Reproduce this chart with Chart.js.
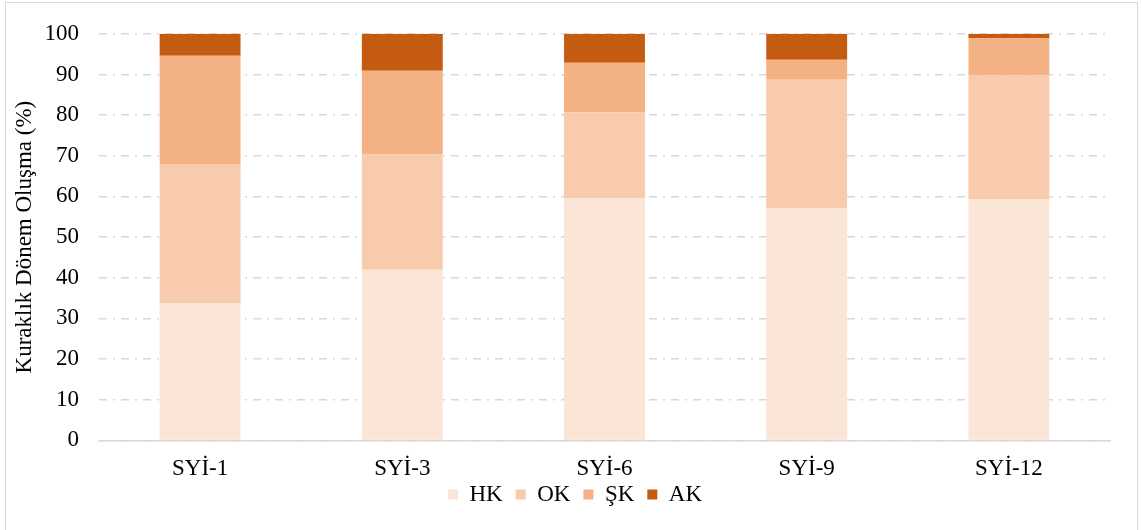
<!DOCTYPE html>
<html>
<head>
<meta charset="utf-8">
<script src="https://cdn.jsdelivr.net/npm/chart.js@4"></script>
<style>
  body { margin: 0; background: #fff; }
  #wrap { width: 1141px; height: 530px; }
</style>
</head>
<body>
<div id="wrap"><canvas id="barChart" width="1141" height="530"></canvas></div>
<script>
const categories = ['SYİ-1', 'SYİ-3', 'SYİ-6', 'SYİ-9', 'SYİ-12'];
const hk = [33.8, 42.0, 59.5, 57.1, 59.4];
const ok = [34.0, 28.3, 21.2, 31.6, 30.4];
const sk = [26.8, 20.6, 12.2, 4.9, 9.1];
const ak = [5.4, 9.1, 7.1, 6.4, 1.1];
const yTicks = [0, 10, 20, 30, 40, 50, 60, 70, 80, 90, 100];

const serif = 'Liberation Serif';

// light frame round the whole chart
const framePlugin = {
    id: 'frame',
    afterDraw(chart) {
        const c = chart.ctx;
        c.save();
        c.strokeStyle = '#d9d9d9';
        c.lineWidth = 1;
        c.strokeRect(5.5, 2.5, 1132, 560);
        c.restore();
    }
};

// pull the legend up so it sits close under the category labels
// (only the top moves, so the legend box grows and nothing gets clipped)
const legendLift = {
    id: 'legendLift',
    afterLayout(chart) {
        const lg = chart.legend;
        lg.top -= 28;
        lg.height += 28;
        lg.left += 20;
        lg.right += 20;
    }
};

document.addEventListener('DOMContentLoaded', function() {
    const ctx = document.getElementById('barChart').getContext('2d');

    const makeSet = (label, data, color) => ({
        label: label,
        data: data,
        backgroundColor: color,
        borderWidth: 0,
        categoryPercentage: 1.0,
        barPercentage: 0.4,
    });

    const config = {
        type: 'bar',
        data: {
            labels: categories,
            datasets: [
                makeSet('HK', hk, '#fbe5d6'),
                makeSet('OK', ok, '#f8cbad'),
                makeSet('ŞK', sk, '#f4b183'),
                makeSet('AK', ak, '#c55a11'),
            ]
        },
        options: {
            responsive: false,
            animation: false,
            layout: {
                padding: { top: 18, right: 31, bottom: 2, left: 0 }
            },
            scales: {
                x: {
                    stacked: true,
                    grid: { display: false, drawTicks: false },
                    border: { color: '#d9d9d9', width: 1.5 },
                    ticks: {
                        color: '#000',
                        padding: 15,
                        font: { family: serif, size: 23 }
                    }
                },
                y: {
                    stacked: true,
                    min: 0,
                    max: 100,
                    afterFit: axis => { axis.width = 99; },
                    afterBuildTicks: axis => { axis.ticks = yTicks.map(v => ({ value: v })); },
                    grid: {
                        color: '#d9d9d9',
                        lineWidth: 1.5,
                        drawTicks: false,
                    },
                    border: { display: false, dash: [8, 6, 2, 6] },
                    ticks: {
                        color: '#000',
                        padding: 20,
                        font: { family: serif, size: 23 }
                    },
                    title: {
                        display: true,
                        text: 'Kuraklık Dönem Oluşma (%)',
                        color: '#000',
                        padding: { top: 11, bottom: 0 },
                        font: { family: serif, size: 23 }
                    }
                }
            },
            plugins: {
                legend: {
                    position: 'bottom',
                    maxHeight: 30,
                    labels: {
                        color: '#000',
                        boxWidth: 10,
                        boxHeight: 10,
                        padding: 13,
                        font: { family: serif, size: 23 }
                    }
                },
                tooltip: { enabled: false }
            }
        },
        plugins: [framePlugin, legendLift]
    };

    const barChart = new Chart(ctx, config);
});
</script>
</body>
</html>
